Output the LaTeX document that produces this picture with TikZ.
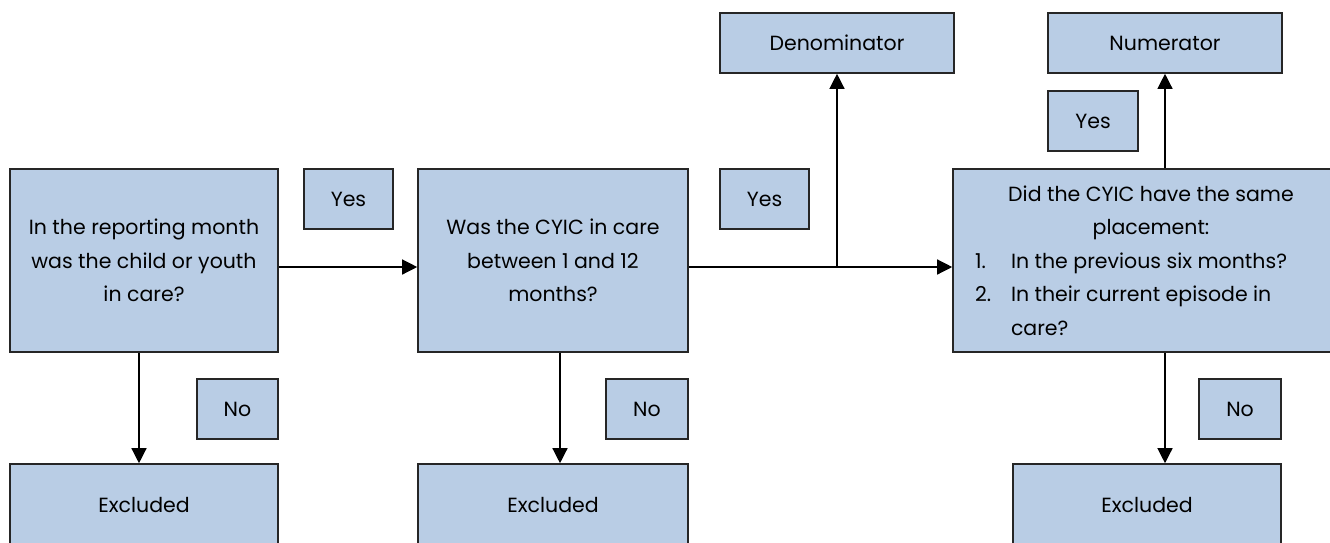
\documentclass[tikz,border=0pt]{standalone}
\usepackage{fontspec}
\setmainfont{Poppins}
\usetikzlibrary{arrows.meta}
\definecolor{boxblue}{RGB}{185, 205, 229}
\tikzset{
  box/.style={draw=black!85, line width=1.6pt, fill=boxblue, inner sep=0pt,
              align=center, font=\fontsize{20.5}{33.5}\selectfont},
  arr/.style={line width=1.3pt, -{Triangle[width=15pt,length=15pt]}}
}

\begin{document}
\begin{tikzpicture}[x=1pt, y=-1pt]
            \useasboundingbox (0,0) rectangle (1330,542);
            % Questions
            \node[box, minimum width=268, minimum height=183] (q1) at ( 144.0, 260.5) {In the reporting month\\was the child or youth\\in care?};
            \node[box, minimum width=270, minimum height=183] (q2) at ( 553.0, 260.5) {Was the CYIC in care\\between 1 and 12\\months?};
            \node[box, minimum width=396, minimum height=183, text width=352, align=none] (q3) at (1151.0, 260.5)
                 {{\noindent\centering Did the CYIC have the same\\placement:\par}
                  \noindent\raggedright\makebox[36pt][l]{1.}In the previous six months?\\
                  \makebox[36pt][l]{2.}In their current episode in\\
                  \hspace*{36pt}care?};
            % Results
            \node[box, minimum width=234, minimum height=60] (den) at ( 837.0,  43.0) {Denominator};
            \node[box, minimum width=234, minimum height=60] (num) at (1165.0,  43.0) {Numerator};
            \node[box, minimum width=268, minimum height=81] (ex1) at ( 144.0, 504.5) {Excluded};
            \node[box, minimum width=270, minimum height=81] (ex2) at ( 553.0, 504.5) {Excluded};
            \node[box, minimum width=268, minimum height=81] (ex3) at (1147.0, 504.5) {Excluded};
            % Yes / No labels
            \node[box, minimum width=89, minimum height=60] (yes1) at ( 348.5, 199.0) {Yes};
            \node[box, minimum width=89, minimum height=60] (yes2) at ( 764.5, 199.0) {Yes};
            \node[box, minimum width=90, minimum height=60] (yes3) at (1093.0, 121.0) {Yes};
            \node[box, minimum width=81, minimum height=60] (no1)  at ( 237.5, 409.0) {No};
            \node[box, minimum width=82, minimum height=60] (no2)  at ( 647.0, 409.0) {No};
            \node[box, minimum width=82, minimum height=60] (no3)  at (1240.0, 409.0) {No};
            % Connectors
            \coordinate (jn) at ([yshift=-6.5pt]q2.east -| den.south);
            \draw[arr] ([yshift=-6.5pt]q1.east) -- ([yshift=-6.5pt]q2.west);
            \draw[arr] ([yshift=-6.5pt]q2.east) -- ([yshift=-6.5pt]q3.west);
            \draw[arr] (jn) -- (den.south);
            \draw[arr] (q3.north -| num.south) -- (num.south);
            \draw[arr] ([xshift=-5pt]q1.south) -- ([xshift=-5pt]ex1.north);
            \draw[arr] ([xshift=7pt]q2.south) -- ([xshift=7pt]ex2.north);
            \draw[arr] (q3.south -| num.south) -- (ex3.north -| num.south);
\end{tikzpicture}
\end{document}
